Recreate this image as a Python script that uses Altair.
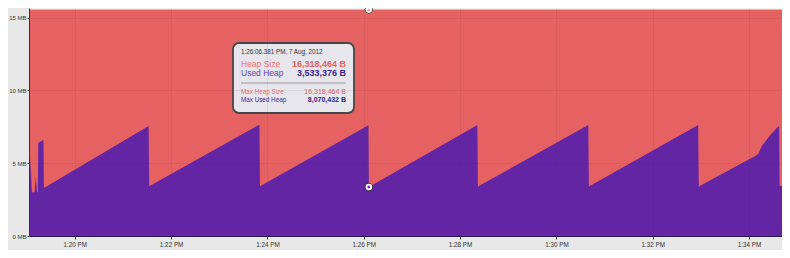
import altair as alt
import pandas as pd

DAY = "2012-08-07"
MIB = 1048576

# Used heap trace (vertices), times and MB values
used_times = ["13:19:03", "13:19:04", "13:19:05", "13:19:06.5", "13:19:10", "13:19:11.5",
              "13:19:13", "13:19:14", "13:19:14.6", "13:19:21", "13:19:21.6",
              "13:21:32", "13:21:32.7", "13:23:50", "13:23:50.7", "13:26:05.9",
              "13:26:06.381", "13:28:21.5", "13:28:22.2", "13:30:39.7", "13:30:40.4",
              "13:32:56.6", "13:32:57.3", "13:34:11", "13:34:16", "13:34:26",
              "13:34:35", "13:34:37.4", "13:34:38", "13:34:41"]
used_mb = [3.0, 3.0, 5.4, 3.0, 3.0, 4.1,
           3.0, 3.0, 6.4, 6.6, 3.3,
           7.55, 3.42, 7.65, 3.42, 7.6,
           3.37, 7.62, 3.40, 7.62, 3.40,
           7.62, 3.40, 5.6, 6.2, 6.9,
           7.45, 7.55, 3.45, 3.45]

# Heap size (constant)
heap_times = ["13:19:03", "13:34:41"]
heap_bytes = 16318464

# Tooltip values
cursor_time = "13:26:06.381"
cursor_label = "1:26:06.381 PM, 7 Aug, 2012"
cursor_heap = 16318464
cursor_used = 3533376
max_heap = 16318464
max_used = 8070432

x_ticks_minutes = [20, 22, 24, 26, 28, 30, 32, 34]
y_ticks = [0, 5, 10, 15]

RED = "#e66262"
PURPLE = "#6325a3"
FONT = "Liberation Sans"

used_df = pd.DataFrame({"t": [f"{DAY}T{t}" for t in used_times], "mb": used_mb})
heap_df = pd.DataFrame({"t": [f"{DAY}T{t}" for t in heap_times],
                        "mb": [heap_bytes / MIB] * len(heap_times)})
cursor_df = pd.DataFrame({"t": [f"{DAY}T{cursor_time}"] * 2,
                          "mb": [cursor_heap / MIB, cursor_used / MIB]})

x_scale = alt.Scale(type="time", nice=False,
                    domain=[alt.DateTime(year=2012, month=8, date=7, hours=13, minutes=19, seconds=3),
                            alt.DateTime(year=2012, month=8, date=7, hours=13, minutes=34, seconds=41)])
y_scale = alt.Scale(domain=[0, 15.66], nice=False, zero=True)

x_axis = alt.Axis(values=[alt.DateTime(year=2012, month=8, date=7, hours=13, minutes=m)
                          for m in x_ticks_minutes],
                  format="%-I:%M %p", title=None, labelFontSize=6.3, labelColor="#333",
                  tickSize=3, tickColor="#333", domainColor="#2a1a4a", domainWidth=1.2,
                  gridColor="#5a1a2a", gridOpacity=0.08, labelPadding=2, zindex=1,
                  labelFont=FONT)
y_axis = alt.Axis(values=y_ticks, labelExpr="datum.value + ' MB'", title=None,
                  labelFontSize=6, labelColor="#333", tickSize=2, tickColor="#333",
                  domainColor="#333", gridColor="#5a1a2a", gridOpacity=0.08,
                  labelPadding=1, zindex=1, labelFont=FONT)

heap = alt.Chart(heap_df).mark_area(color=RED, opacity=1, interpolate="linear").encode(
    x=alt.X("t:T", scale=x_scale, axis=x_axis),
    y=alt.Y("mb:Q", scale=y_scale, axis=y_axis),
)
used = alt.Chart(used_df).mark_area(color=PURPLE, opacity=1, interpolate="linear").encode(
    x=alt.X("t:T", scale=x_scale),
    y=alt.Y("mb:Q", scale=y_scale),
)
marker_outer = alt.Chart(cursor_df).mark_point(shape="circle", filled=False, stroke="#3a3a3a",
                                                strokeWidth=1, size=55, opacity=1).encode(
    x=alt.X("t:T", scale=x_scale), y=alt.Y("mb:Q", scale=y_scale))
marker_inner = alt.Chart(cursor_df).mark_point(shape="circle", filled=False, stroke="white",
                                                strokeWidth=1.8, size=22, opacity=1).encode(
    x=alt.X("t:T", scale=x_scale), y=alt.Y("mb:Q", scale=y_scale))

one = pd.DataFrame({"a": [0]})
box = alt.Chart(one).mark_rect(fill="#e6e6ec", stroke="#474747", strokeWidth=1.8,
                                cornerRadius=6).encode(
    x=alt.value(204), x2=alt.value(325), y=alt.value(35), y2=alt.value(105))
sep = alt.Chart(one).mark_rule(color="#9a9a9a", strokeWidth=1).encode(
    x=alt.value(212), x2=alt.value(317), y=alt.value(75))


def txt(s, x, y, size, color, align="left", weight="normal"):
    return alt.Chart(pd.DataFrame({"s": [s]})).mark_text(
        align=align, baseline="middle", fontSize=size, color=color, fontWeight=weight,
        font=FONT).encode(x=alt.value(x), y=alt.value(y), text="s:N")


texts = [
    txt(cursor_label, 212, 44, 6.3, "#333333"),
    txt("Heap Size", 212, 56, 8.5, "#ee7272"),
    txt(f"{cursor_heap:,} B", 317, 56, 9, "#e45f5f", "right", "bold"),
    txt("Used Heap", 212, 65, 8.5, "#6b3cb3"),
    txt(f"{cursor_used:,} B", 317, 65, 9, "#3b1f8c", "right", "bold"),
    txt("Max Heap Size", 212, 84, 6.3, "#e86e6e"),
    txt(f"{max_heap:,} B", 317, 84, 7, "#e45f5f", "right"),
    txt("Max Used Heap", 212, 92, 6.3, "#3e2590"),
    txt(f"{max_used:,} B", 317, 92, 7, "#2e1f80", "right", "bold"),
]

chart = alt.layer(heap, used, marker_outer, marker_inner, box, sep, *texts).properties(
    width=753, height=228,
    autosize=alt.AutoSizeParams(type="none"),
    padding={"left": 21, "top": 0, "right": 0, "bottom": 14},
    background="#e8e8e8",
).configure_view(stroke=None, fill="#f4f4f4")

chart.save("out.html", embed_options={"renderer": "svg", "actions": False})
